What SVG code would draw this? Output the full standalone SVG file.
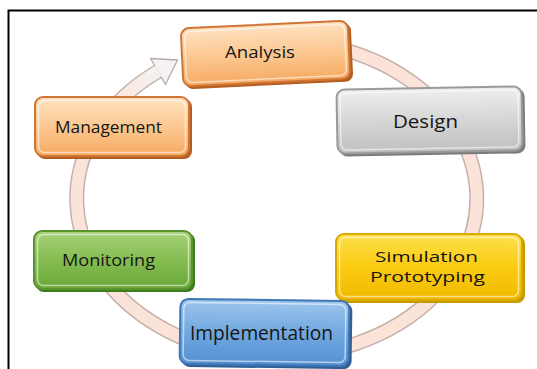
<svg xmlns="http://www.w3.org/2000/svg" width="537" height="369" viewBox="0 0 537 369">
<style>
.lbl{font-family:"Open Sans","Noto Sans","Liberation Sans",sans-serif;fill:#151515;text-anchor:middle}
.hi{fill:none;stroke:#ffffff;stroke-opacity:0.55;stroke-width:1.5}
.ringOut{fill:none;stroke:#c4b2aa;stroke-width:15}
.ringIn{fill:none;stroke:#fbe3d9;stroke-width:12}
</style>
<defs>
<linearGradient id="gOrange" x1="0" y1="0" x2="0" y2="1"><stop offset="0" stop-color="#fee2c2"/><stop offset="0.5" stop-color="#fcc892"/><stop offset="1" stop-color="#f6aa62"/></linearGradient>
<linearGradient id="gGray" x1="0" y1="0" x2="0" y2="1"><stop offset="0" stop-color="#efefef"/><stop offset="0.5" stop-color="#d6d6d6"/><stop offset="1" stop-color="#c0c0c0"/></linearGradient>
<linearGradient id="gYellow" x1="0" y1="0" x2="0" y2="1"><stop offset="0" stop-color="#fde04e"/><stop offset="0.5" stop-color="#fbcb10"/><stop offset="1" stop-color="#f1ba00"/></linearGradient>
<linearGradient id="gBlue" x1="0" y1="0" x2="0" y2="1"><stop offset="0" stop-color="#9ec6ee"/><stop offset="0.5" stop-color="#71a8df"/><stop offset="1" stop-color="#5590d2"/></linearGradient>
<linearGradient id="gGreen" x1="0" y1="0" x2="0" y2="1"><stop offset="0" stop-color="#a8d27c"/><stop offset="0.5" stop-color="#84bc50"/><stop offset="1" stop-color="#6aa73a"/></linearGradient>
<linearGradient id="gTail" gradientUnits="userSpaceOnUse" x1="113" y1="108" x2="158" y2="71"><stop offset="0" stop-color="#fbe3d9"/><stop offset="1" stop-color="#f4f2f2"/></linearGradient>
</defs>

<path d="M 8.5 369 V 10.5 H 537" fill="none" stroke="#000" stroke-width="2"/>

<g id="connectors">
<path class="ringOut" d="M 242.3 42.9 A 200 158 0 1 1 158 71.4"/>
<polygon points="177.5,60 150.5,58.5 165.5,84.5" fill="#f4f2f2" stroke="#b5aba7" stroke-width="1.3" stroke-linejoin="round"/>
<path class="ringIn" d="M 242.3 42.9 A 200 158 0 1 1 158 71.4"/>
<path d="M 113.2 107.9 A 200 158 0 0 1 158.5 71" fill="none" stroke="url(#gTail)" stroke-width="12"/>
</g>

<g id="analysis" transform="rotate(-2.7 266 54)">
<rect x="184" y="26.5" width="168" height="59" rx="8" fill="#b55e22"/>
<rect x="182" y="24.5" width="167" height="58" rx="8" fill="url(#gOrange)" stroke="#cf7535" stroke-width="2"/>
<rect class="hi" x="185.5" y="28" width="160" height="51" rx="6"/>
</g>
<text class="lbl" x="260" y="58" font-size="15.5" textLength="70" lengthAdjust="spacingAndGlyphs">Analysis</text>

<g id="design" transform="rotate(-1 430 120)">
<rect x="339" y="90" width="186" height="65" rx="8" fill="#7c7c7c"/>
<rect x="337" y="88" width="185" height="64" rx="8" fill="url(#gGray)" stroke="#9a9a9a" stroke-width="2"/>
<rect class="hi" x="340.5" y="91.5" width="178" height="57" rx="6"/>
</g>
<text class="lbl" x="425.5" y="128" font-size="18" textLength="65" lengthAdjust="spacingAndGlyphs">Design</text>

<g id="management">
<rect x="37" y="99" width="155" height="60" rx="8" fill="#b55e22"/>
<rect x="35" y="97" width="154" height="59" rx="8" fill="url(#gOrange)" stroke="#cf7535" stroke-width="2"/>
<rect class="hi" x="38.5" y="100.5" width="147" height="52" rx="6"/>
</g>
<text class="lbl" x="108.5" y="133" font-size="16.5" textLength="107" lengthAdjust="spacingAndGlyphs">Management</text>

<g id="simulation">
<rect x="338" y="236" width="187" height="67" rx="8" fill="#c79a00"/>
<rect x="336" y="234" width="186" height="66" rx="8" fill="url(#gYellow)" stroke="#d9a900" stroke-width="2"/>
<rect class="hi" x="339.5" y="237.5" width="179" height="59" rx="6"/>
</g>
<text class="lbl" x="426.5" y="261.5" font-size="15" textLength="103" lengthAdjust="spacingAndGlyphs">Simulation</text>
<text class="lbl" x="427.5" y="282" font-size="15" textLength="115" lengthAdjust="spacingAndGlyphs">Prototyping</text>

<g id="monitoring">
<rect x="36" y="233" width="159" height="59" rx="8" fill="#3f7a1e"/>
<rect x="34" y="231" width="158" height="58" rx="8" fill="url(#gGreen)" stroke="#58952d" stroke-width="2"/>
<rect class="hi" x="37.5" y="234.5" width="151" height="51" rx="6"/>
</g>
<text class="lbl" x="108.5" y="266" font-size="16.5" textLength="93" lengthAdjust="spacingAndGlyphs">Monitoring</text>

<g id="implementation" transform="rotate(0.8 265 333)">
<rect x="182" y="302" width="170" height="66" rx="8" fill="#2f5f94"/>
<rect x="180" y="300" width="169" height="65" rx="8" fill="url(#gBlue)" stroke="#3f77b4" stroke-width="2"/>
<rect class="hi" x="183.5" y="303.5" width="162" height="58" rx="6"/>
</g>
<text class="lbl" x="261.5" y="340" font-size="20" textLength="143" lengthAdjust="spacingAndGlyphs">Implementation</text>
</svg>
